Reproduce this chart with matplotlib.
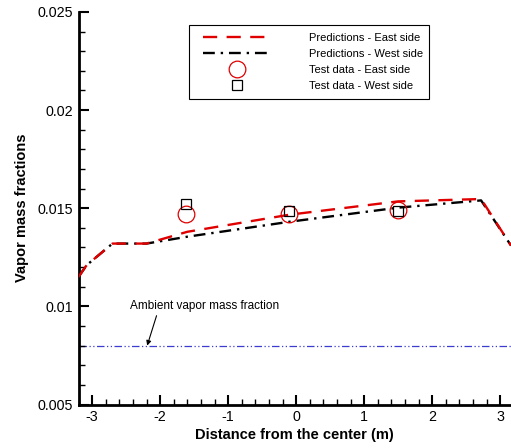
import matplotlib
matplotlib.use("Agg")
import matplotlib.pyplot as plt
from matplotlib.lines import Line2D
from matplotlib.patches import Rectangle
from matplotlib.ticker import MultipleLocator

plt.rcParams["font.family"] = ["Liberation Sans", "DejaVu Sans"]
plt.rcParams["axes.unicode_minus"] = False

# --- data ------------------------------------------------------------------
pred_x = [-3.2, -3.08, -2.7, -2.2, -1.6, -0.1, 1.5, 2.72, 3.16]
east_pred = [0.0115, 0.0121, 0.0132, 0.0132, 0.0138, 0.01467, 0.01535, 0.01547, 0.0131]
west_pred = [0.0115, 0.0121, 0.0132, 0.0132, 0.01355, 0.01431, 0.01503, 0.01540, 0.0131]

test_x = [-1.62, -0.1, 1.5]
east_test = [0.01472, 0.01470, 0.01489]
west_test = [0.01521, 0.01487, 0.01484]

ambient = 0.008

W, H = 511, 448
fig = plt.figure(figsize=(W / 100, H / 100), dpi=100)
ax = fig.add_axes([78.5 / W, 43.5 / H, 1 - 78.5 / W, (404.5 - 12) / H])

ax.plot(pred_x, east_pred, color="#e00000", lw=1.7, dashes=(6, 4), zorder=3)
ax.plot(pred_x, west_pred, color="black", lw=1.7, dashes=(5, 2.5, 1, 2.5), zorder=2)
ax.plot(test_x, east_test, "o", ms=12, mfc="none", mec="#e00000", mew=0.9, zorder=4)
ax.plot(test_x, west_test, "s", ms=7.5, mfc="none", mec="black", mew=0.9, zorder=4)
ax.axhline(ambient, color="#3c3cd0", lw=0.9, dashes=(6, 2, 1, 2, 1, 2), zorder=1)

ax.annotate("Ambient vapor mass fraction", xy=(-2.19, ambient), xytext=(-2.45, 0.01004),
            fontsize=8.5, ha="left", va="center",
            arrowprops=dict(arrowstyle="-|>", color="black", lw=0.8, mutation_scale=7,
                            shrinkA=1, shrinkB=0, relpos=(0.19, 0)))

ax.set_xlim(-3.2, 3.16)
ax.set_ylim(0.005, 0.025)
ax.xaxis.set_major_locator(MultipleLocator(1))
ax.xaxis.set_minor_locator(MultipleLocator(0.2))
ax.yaxis.set_minor_locator(MultipleLocator(0.001))
ax.set_yticks([0.005, 0.01, 0.015, 0.02, 0.025])
ax.set_yticklabels(["0.005", "0.01", "0.015", "0.02", "0.025"])

for s in ("top", "right"):
    ax.spines[s].set_visible(False)
for s in ("left", "bottom"):
    ax.spines[s].set_linewidth(2)
ax.tick_params(which="major", direction="in", length=7, width=1.5, labelsize=10.3, pad=4)
ax.tick_params(which="minor", direction="in", length=4, width=1)

ax.set_xlabel("Distance from the center (m)", fontsize=10.5, fontweight="bold", labelpad=3)
ax.set_ylabel("Vapor mass fractions", fontsize=10.5, fontweight="bold", labelpad=6)

# legend: frameless entries on top of a hand-placed box
handles = [
    Line2D([], [], color="#e00000", lw=1.7, dashes=(6, 4)),
    Line2D([], [], color="black", lw=1.7, dashes=(5, 2.5, 1, 2.5)),
    Line2D([], [], ls="none", marker="o", ms=12, mfc="none", mec="#e00000", mew=0.9),
    Line2D([], [], ls="none", marker="s", ms=7.5, mfc="none", mec="black", mew=0.9),
]
labels = ["Predictions - East side", "Predictions - West side",
          "Test data - East side", "Test data - West side"]
leg = ax.legend(handles, labels, loc="upper left", bbox_to_anchor=(203 / W, 1 - 33 / H),
                bbox_transform=fig.transFigure, fontsize=8, handlelength=6.2,
                handletextpad=3.3, labelspacing=0.55, borderpad=0, frameon=False,
                borderaxespad=0)
leg.set_zorder(7)
ax.add_patch(Rectangle((189 / W, 1 - 99 / H), 240 / W, 74 / H, transform=fig.transFigure,
                       facecolor="white", edgecolor="black", lw=0.8, zorder=6,
                       clip_on=False))

fig.savefig("out.png", dpi=100)
